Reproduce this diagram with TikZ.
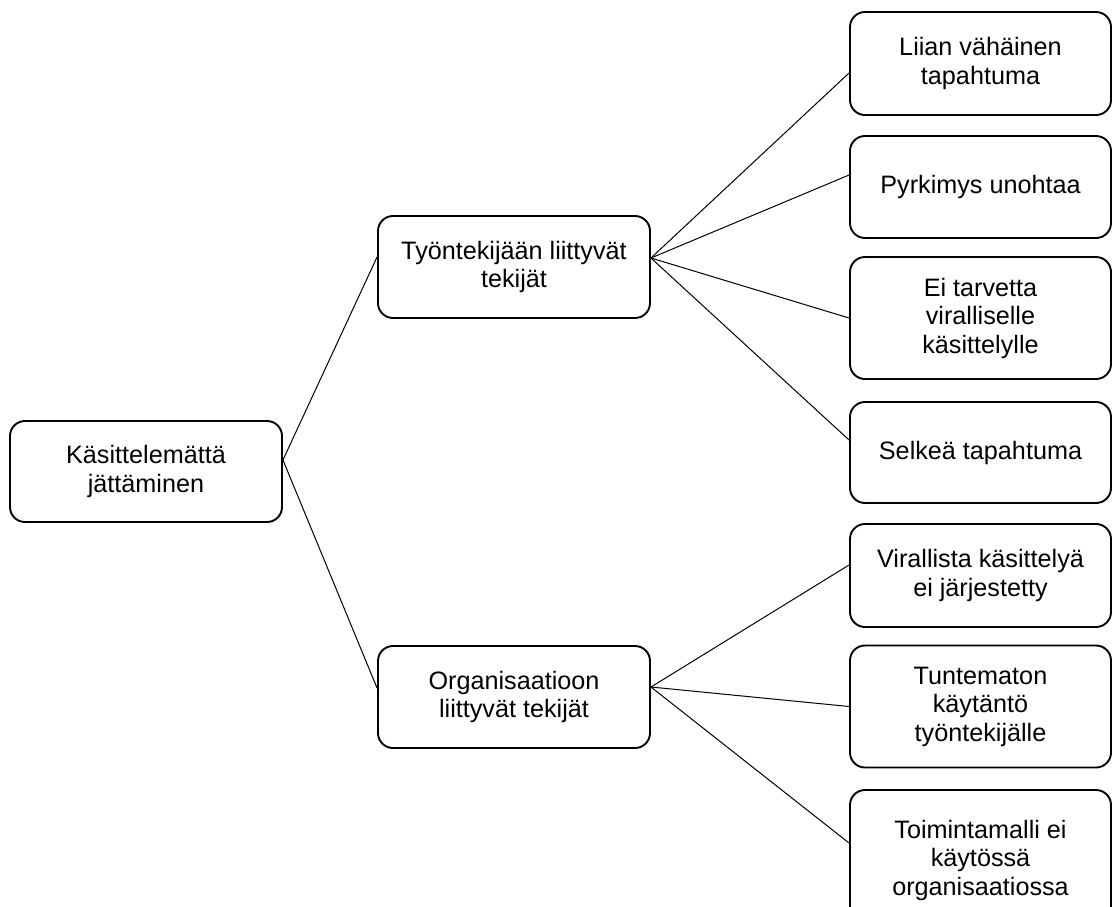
\documentclass[tikz,border=0pt]{standalone}
\usepackage{fontspec}
\setmainfont{Liberation Sans}
\begin{document}
\begin{tikzpicture}[x=1pt,y=-1pt,
  box/.style={draw, line width=1.9pt, rounded corners=15pt, inner sep=0pt,
    align=center, font=\fontsize{25.2}{28.5}\selectfont,
    minimum width=272pt, minimum height=102pt},
  leaf/.style={box, minimum width=261pt},
  tall/.style={minimum height=122pt},
  conn/.style={line width=1pt}]
\useasboundingbox (0,0) rectangle (1112,906);
\clip (0,0) rectangle (1112,906);
\node[box, minimum height=101pt] (root) at (146,471.5) {Käsittelemättä\\jättäminen};
\node[box] (t) at (514,267) {Työntekijään liittyvät\\tekijät};
\node[box] (o) at (514,697) {Organisaatioon\\liittyvät tekijät};
\node[leaf, minimum height=103pt] (l1) at (980.5,63.5) {Liian vähäinen\\tapahtuma};
\node[leaf] (l2) at (980.5,187) {Pyrkimys unohtaa};
\node[leaf, tall] (l3) at (980.5,318) {Ei tarvetta\\viralliselle\\käsittelylle};
\node[leaf, minimum height=101pt] (l4) at (980.5,452.5) {Selkeä tapahtuma};
\node[leaf, minimum height=103pt] (l5) at (980.5,575.5) {Virallista käsittelyä\\ei järjestetty};
\node[leaf, tall] (l6) at (980.5,706.5) {Tuntematon\\käytäntö\\työntekijälle};
\node[leaf, minimum height=140pt] (l7) at (980.5,860) {Toimintamalli ei\\käytössä\\organisaatiossa};
\draw[conn] ([yshift=11.5pt]root.east) -- ([yshift=10pt]t.west);
\draw[conn] ([yshift=11.5pt]root.east) -- ([yshift=9pt]o.west);
\draw[conn] ([yshift=9pt]t.east) -- ([yshift=-9.5pt]l1.west);
\draw[conn] ([yshift=9pt]t.east) -- ([yshift=12pt]l2.west);
\draw[conn] ([yshift=9pt]t.east) -- (l3.west);
\draw[conn] ([yshift=9pt]t.east) -- ([yshift=12.5pt]l4.west);
\draw[conn] ([yshift=10pt]o.east) -- ([yshift=10.5pt]l5.west);
\draw[conn] ([yshift=10pt]o.east) -- (l6.west);
\draw[conn] ([yshift=10pt]o.east) -- ([yshift=17pt]l7.west);
\end{tikzpicture}
\end{document}
